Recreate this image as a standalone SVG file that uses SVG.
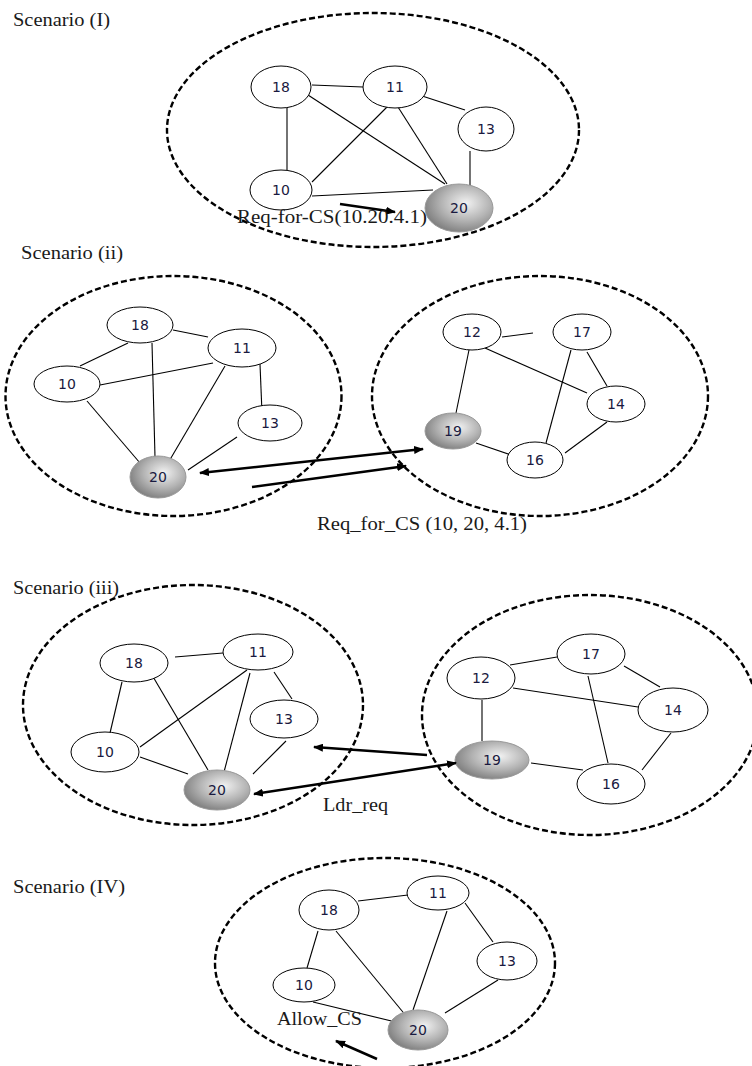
<svg xmlns="http://www.w3.org/2000/svg" width="752" height="1066" viewBox="0 0 752 1066">
<defs>
<radialGradient id="g" cx="0.6" cy="0.4" r="0.65">
<stop offset="0" stop-color="#f2f2f2"/>
<stop offset="0.55" stop-color="#b4b4b4"/>
<stop offset="1" stop-color="#7c7c7c"/>
</radialGradient>
<marker id="ah" viewBox="0 0 10 8" refX="9" refY="4" markerWidth="4" markerHeight="3.2" orient="auto-start-reverse" markerUnits="strokeWidth">
<path d="M0,0 L10,4 L0,8 z" fill="#000"/>
</marker>
<style>
.cl{fill:none;stroke:#000;stroke-width:2.4;stroke-dasharray:6 3}
.n ellipse{fill:#fff;stroke:#000;stroke-width:1}
.n.s ellipse{fill:url(#g);stroke:#999;stroke-width:1}
.n text{font-family:"DejaVu Sans",Verdana,sans-serif;font-size:14px;fill:#1a1a40;text-anchor:middle}
.e line{stroke:#000;stroke-width:1.1}
.a line{stroke:#000;stroke-width:2.5}
.lb{font-family:"Liberation Serif","Times New Roman",serif;font-size:19px;fill:#1a1a1a}
</style>
</defs>
<rect width="752" height="1066" fill="#fff"/>

<!-- Scenario I -->
<text class="lb" x="13" y="26" textLength="97" lengthAdjust="spacingAndGlyphs">Scenario (I)</text>
<ellipse class="cl" cx="373" cy="130" rx="206" ry="117"/>
<g class="e">
<line x1="312" y1="85" x2="363" y2="87"/>
<line x1="287" y1="108" x2="287" y2="170"/>
<line x1="308" y1="95" x2="445" y2="184"/>
<line x1="387" y1="107" x2="312" y2="182"/>
<line x1="398" y1="107" x2="447" y2="184"/>
<line x1="413" y1="93" x2="465" y2="110"/>
<line x1="470" y1="151" x2="470" y2="185"/>
<line x1="312" y1="196" x2="433" y2="190"/>
</g>
<g id="s1n18" class="n"><ellipse cx="281" cy="87" rx="30" ry="21"/><text x="281" y="92">18</text></g>
<g id="s1n11" class="n"><ellipse cx="395" cy="87" rx="32" ry="21"/><text x="395" y="92">11</text></g>
<g id="s1n13" class="n"><ellipse cx="486" cy="129" rx="28" ry="22"/><text x="486" y="134">13</text></g>
<g id="s1n10" class="n"><ellipse cx="281" cy="190" rx="31" ry="20"/><text x="281" y="195">10</text></g>
<g id="s1n20" class="n s"><ellipse cx="459" cy="208" rx="34" ry="24"/><text x="459" y="213">20</text></g>
<g class="a"><line x1="340" y1="204" x2="395" y2="212" marker-end="url(#ah)"/></g>
<text class="lb" x="237" y="223" textLength="190" lengthAdjust="spacingAndGlyphs">Req-for-CS(10.20.4.1)</text>

<!-- Scenario ii -->
<text class="lb" x="21" y="259" textLength="102" lengthAdjust="spacingAndGlyphs">Scenario (ii)</text>
<ellipse class="cl" cx="173.5" cy="396" rx="168" ry="120"/>
<ellipse class="cl" cx="540" cy="396" rx="168" ry="120"/>
<g class="e">
<line x1="173" y1="330" x2="208" y2="337"/>
<line x1="128" y1="343" x2="80" y2="366"/>
<line x1="152" y1="343" x2="155" y2="457"/>
<line x1="213" y1="363" x2="100" y2="385"/>
<line x1="225" y1="366" x2="168" y2="463"/>
<line x1="260" y1="364" x2="262" y2="413"/>
<line x1="87" y1="401" x2="140" y2="463"/>
<line x1="237" y1="437" x2="188" y2="470"/>
<line x1="502" y1="337" x2="533" y2="333"/>
<line x1="469" y1="350" x2="456" y2="413"/>
<line x1="485" y1="348" x2="587" y2="393"/>
<line x1="571" y1="350" x2="546" y2="443"/>
<line x1="587" y1="352" x2="607" y2="386"/>
<line x1="607" y1="422" x2="565" y2="453"/>
<line x1="476" y1="443" x2="514" y2="456"/>
</g>
<g id="s2n18" class="n"><ellipse cx="140" cy="325" rx="33" ry="18"/><text x="140" y="330">18</text></g>
<g id="s2n11" class="n"><ellipse cx="242" cy="348" rx="34" ry="19"/><text x="242" y="353">11</text></g>
<g id="s2n10" class="n"><ellipse cx="67" cy="384" rx="33" ry="18"/><text x="67" y="389">10</text></g>
<g id="s2n13" class="n"><ellipse cx="270" cy="423" rx="32" ry="18"/><text x="270" y="428">13</text></g>
<g id="s2n20" class="n s"><ellipse cx="158" cy="477" rx="28" ry="21"/><text x="158" y="482">20</text></g>
<g id="s2n12" class="n"><ellipse cx="472" cy="332" rx="29" ry="18"/><text x="472" y="337">12</text></g>
<g id="s2n17" class="n"><ellipse cx="582" cy="332" rx="29" ry="18"/><text x="582" y="337">17</text></g>
<g id="s2n14" class="n"><ellipse cx="616" cy="404" rx="29" ry="18"/><text x="616" y="409">14</text></g>
<g id="s2n19" class="n s"><ellipse cx="453" cy="431" rx="28" ry="18"/><text x="453" y="436">19</text></g>
<g id="s2n16" class="n"><ellipse cx="535" cy="460" rx="28" ry="18"/><text x="535" y="465">16</text></g>
<g class="a">
<line x1="200" y1="473" x2="423" y2="449" marker-start="url(#ah)" marker-end="url(#ah)"/>
<line x1="252" y1="487" x2="406" y2="466" marker-end="url(#ah)"/>
</g>
<text class="lb" x="317" y="530" textLength="210" lengthAdjust="spacingAndGlyphs">Req_for_CS (10, 20, 4.1)</text>

<!-- Scenario iii -->
<text class="lb" x="13" y="594" textLength="106" lengthAdjust="spacingAndGlyphs">Scenario (iii)</text>
<ellipse class="cl" cx="193" cy="705" rx="170" ry="120"/>
<ellipse class="cl" cx="590" cy="715" rx="168" ry="120"/>
<g class="e">
<line x1="175" y1="657" x2="223" y2="653"/>
<line x1="122" y1="682" x2="110" y2="733"/>
<line x1="152" y1="675" x2="208" y2="770"/>
<line x1="247" y1="670" x2="140" y2="747"/>
<line x1="250" y1="673" x2="224" y2="772"/>
<line x1="274" y1="672" x2="292" y2="699"/>
<line x1="286" y1="741" x2="253" y2="774"/>
<line x1="140" y1="757" x2="188" y2="774"/>
<line x1="510" y1="665" x2="557" y2="657"/>
<line x1="513" y1="688" x2="638" y2="707"/>
<line x1="482" y1="700" x2="482" y2="741"/>
<line x1="624" y1="666" x2="660" y2="687"/>
<line x1="588" y1="676" x2="608" y2="763"/>
<line x1="671" y1="733" x2="642" y2="770"/>
<line x1="531" y1="763" x2="583" y2="770"/>
</g>
<g id="s3n18" class="n"><ellipse cx="134" cy="663" rx="34" ry="19"/><text x="134" y="668">18</text></g>
<g id="s3n11" class="n"><ellipse cx="258" cy="652" rx="35" ry="18"/><text x="258" y="657">11</text></g>
<g id="s3n13" class="n"><ellipse cx="284" cy="719" rx="34" ry="19"/><text x="284" y="724">13</text></g>
<g id="s3n10" class="n"><ellipse cx="105" cy="752" rx="34" ry="20"/><text x="105" y="757">10</text></g>
<g id="s3n20" class="n s"><ellipse cx="217" cy="790" rx="33" ry="20"/><text x="217" y="795">20</text></g>
<g id="s3n17" class="n"><ellipse cx="591" cy="654" rx="34" ry="20"/><text x="591" y="659">17</text></g>
<g id="s3n12" class="n"><ellipse cx="481" cy="678" rx="34" ry="21"/><text x="481" y="683">12</text></g>
<g id="s3n14" class="n"><ellipse cx="673" cy="710" rx="35" ry="22"/><text x="673" y="715">14</text></g>
<g id="s3n19" class="n s"><ellipse cx="492" cy="760" rx="37" ry="19"/><text x="492" y="765">19</text></g>
<g id="s3n16" class="n"><ellipse cx="611" cy="784" rx="34" ry="20"/><text x="611" y="789">16</text></g>
<g class="a">
<line x1="427" y1="755" x2="314" y2="747" marker-end="url(#ah)"/>
<line x1="254" y1="794" x2="456" y2="763" marker-start="url(#ah)" marker-end="url(#ah)"/>
</g>
<text class="lb" x="323" y="811" textLength="65" lengthAdjust="spacingAndGlyphs">Ldr_req</text>

<!-- Scenario IV -->
<text class="lb" x="13" y="893" textLength="112" lengthAdjust="spacingAndGlyphs">Scenario (IV)</text>
<ellipse class="cl" cx="385" cy="963" rx="170" ry="105"/>
<g class="e">
<line x1="358" y1="901" x2="408" y2="895"/>
<line x1="318" y1="931" x2="307" y2="968"/>
<line x1="336" y1="931" x2="407" y2="1017"/>
<line x1="447" y1="911" x2="413" y2="1010"/>
<line x1="465" y1="903" x2="493" y2="942"/>
<line x1="498" y1="980" x2="445" y2="1013"/>
<line x1="313" y1="1002" x2="408" y2="1025"/>
</g>
<g id="s4n18" class="n"><ellipse cx="329" cy="910" rx="30" ry="20"/><text x="329" y="915">18</text></g>
<g id="s4n11" class="n"><ellipse cx="438" cy="893" rx="31" ry="17"/><text x="438" y="898">11</text></g>
<g id="s4n13" class="n"><ellipse cx="507" cy="961" rx="30" ry="19"/><text x="507" y="966">13</text></g>
<g id="s4n10" class="n"><ellipse cx="304" cy="985" rx="31" ry="17"/><text x="304" y="990">10</text></g>
<g id="s4n20" class="n s"><ellipse cx="418" cy="1030" rx="30" ry="20"/><text x="418" y="1035">20</text></g>
<g class="a"><line x1="377" y1="1059" x2="336" y2="1041" marker-end="url(#ah)"/></g>
<text class="lb" x="277" y="1025" textLength="85" lengthAdjust="spacingAndGlyphs">Allow_CS</text>
</svg>
